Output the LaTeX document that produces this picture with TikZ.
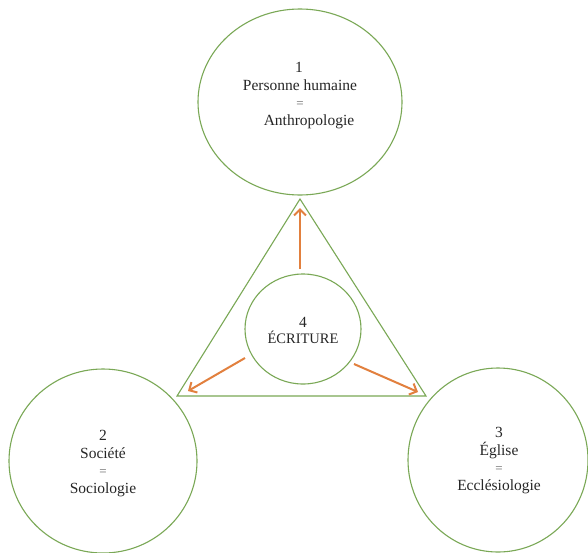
\documentclass[tikz,border=0pt]{standalone}
\usepackage{fontspec}
\setmainfont{Liberation Serif}
\usetikzlibrary{shapes.geometric,arrows.meta}
\definecolor{cgreen}{RGB}{122,168,86}
\definecolor{corange}{RGB}{226,128,62}
\begin{document}
\begin{tikzpicture}[x=1pt,y=-1pt,
  ring/.style={draw=cgreen,line width=1.1pt,ellipse,inner sep=0pt},
  lbl/.style={anchor=base,inner sep=0pt,font=\fontsize{15.5}{17.7}\selectfont,text=black!85},
  eqlbl/.style={anchor=base,inner sep=0pt,font=\fontsize{13}{15}\selectfont,text=black!60},
  arr/.style={draw=corange,line width=2pt,-{Straight Barb[length=6pt,width=12pt,line width=2pt]}}]
\useasboundingbox (0,0) rectangle (588,552);
\clip (0,0) rectangle (588,552);
\fill[white] (0,0) rectangle (588,552);
% circles
\node[ring,minimum width=204pt,minimum height=186pt] (c1) at (300,102) {};
\node[ring,minimum width=188pt,minimum height=184pt] (c2) at (103,461) {};
\node[ring,minimum width=180pt,minimum height=184pt] (c3) at (498,460) {};
% triangle
\coordinate (tA) at (300,199);
\coordinate (tL) at (177,396);
\coordinate (tR) at (426,396);
\draw[cgreen,line width=1.1pt,line join=miter] (tA) -- (tL) -- (tR) -- cycle;
\node[ring,minimum width=116pt,minimum height=110pt] (c4) at (303,329) {};
% arrows
\coordinate (aU) at (300,208);
\coordinate (aL) at (188,391);
\coordinate (aR) at (418,392);
\coordinate (sU) at (300,269);
\coordinate (sL) at (245,358);
\coordinate (sR) at (354,364);
\draw[arr] (sU) -- (aU);
\draw[arr] (sL) -- (aL);
\draw[arr] (sR) -- (aR);
% texts
\node[lbl] (t1a) at (299,72) {1};
\node[lbl] (t1b) at (300,90) {Personne humaine};
\node[eqlbl] (t1c) at (300,107.5) {=};
\node[lbl] (t1d) at (309,125) {Anthropologie};
\node[lbl] (t2a) at (103,440) {2};
\node[lbl] (t2b) at (103,458) {Société};
\node[eqlbl] (t2c) at (103,475) {=};
\node[lbl] (t2d) at (103,493) {Sociologie};
\node[lbl] (t3a) at (499,437) {3};
\node[lbl] (t3b) at (499,455) {Église};
\node[eqlbl] (t3c) at (499,472) {=};
\node[lbl] (t3d) at (499,490) {Ecclésiologie};
\node[lbl] (t4a) at (303,327) {4};
\node[lbl,font=\fontsize{14.5}{17}\selectfont] (t4b) at (303,343) {ÉCRITURE};
\end{tikzpicture}
\end{document}
